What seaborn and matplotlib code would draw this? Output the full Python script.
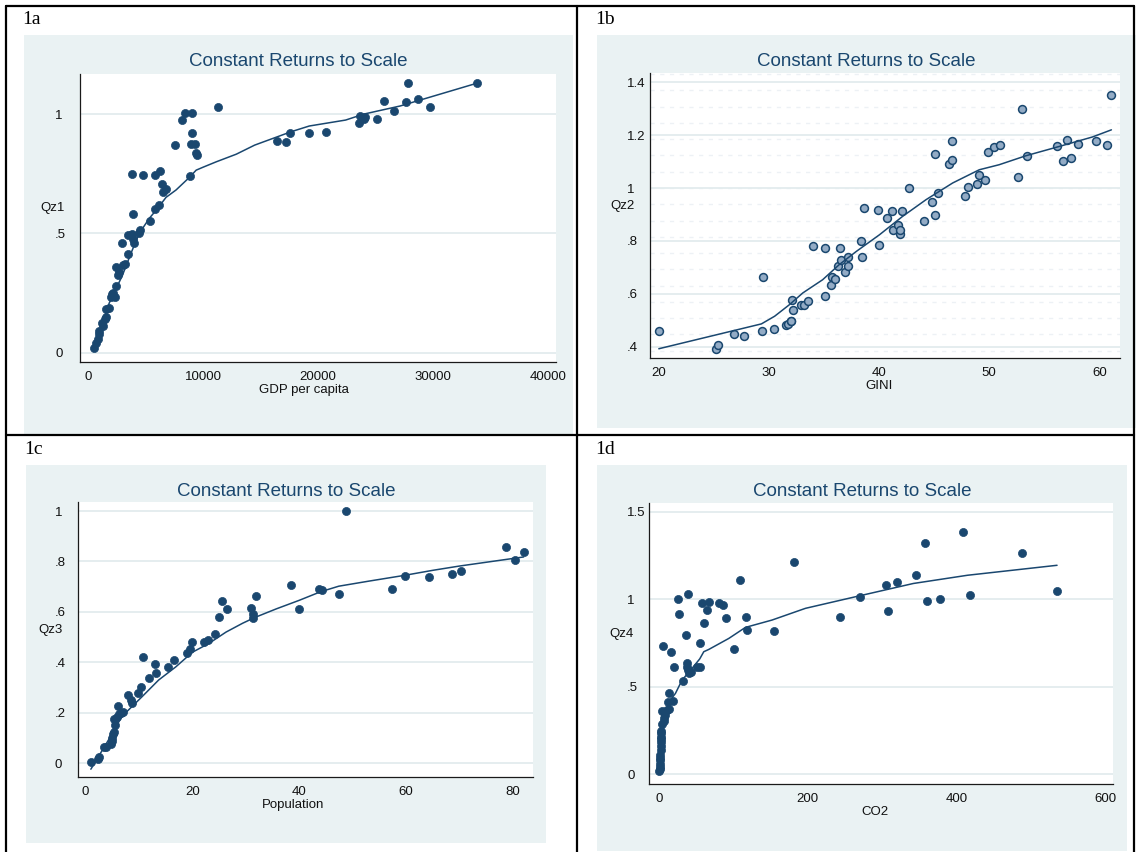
import numpy as np
import pandas as pd
import matplotlib
matplotlib.use("Agg")
from matplotlib import pyplot as plt
from matplotlib.patches import Rectangle
from matplotlib.lines import Line2D
import seaborn as sns

W, H = 1136, 852
NAVY = "#1a476f"
PANEL_BG = "#eaf2f3"
GRID = "#e3ecee"

# ---- 1a: GDP per capita vs Qz1
gdp = [496, 641, 816, 933, 962, 1224, 1312, 1458, 1574, 1516, 1837, 1953, 2041, 2187,
       2332, 2449, 2566, 2682, 2449, 2974, 3207, 3440, 2915, 3411, 3790, 3848, 3965,
       4431, 4490, 5335, 3907, 5831, 6152, 6531, 6793, 6443, 3819, 4752, 5831, 6239,
       8892, 7580, 8980, 9271, 9388, 9475, 9009, 8163, 8397, 9038, 11254, 16387, 17242,
       17559, 19207, 20729, 23613, 23645, 23994, 24089, 25103, 25705, 26656, 27670,
       27797, 28748, 29762, 33883]
qz1 = [0.021, 0.042, 0.056, 0.077, 0.089, 0.126, 0.112, 0.14, 0.151, 0.184, 0.187, 0.232,
       0.246, 0.249, 0.235, 0.279, 0.324, 0.339, 0.360, 0.366, 0.372, 0.413, 0.459, 0.492,
       0.497, 0.478, 0.461, 0.5, 0.514, 0.554, 0.581, 0.603, 0.617, 0.673, 0.684, 0.707,
       0.749, 0.743, 0.746, 0.763, 0.742, 0.869, 0.873, 0.873, 0.835, 0.827, 0.922, 0.975,
       1.003, 1.003, 1.031, 0.887, 0.881, 0.922, 0.919, 0.923, 0.964, 0.992, 0.978, 0.986,
       0.980, 1.053, 1.013, 1.052, 1.131, 1.064, 1.029, 1.131]
fit1_x = [496, 1808, 2974, 3703, 4431, 5306, 6035, 6764, 7638, 8805, 9388, 9971, 11137,
          12886, 14485, 17654, 19239, 22409, 23994, 27163, 33883]
fit1_y = [0.011, 0.207, 0.325, 0.416, 0.5, 0.563, 0.605, 0.651, 0.682, 0.735, 0.765, 0.777,
          0.8, 0.832, 0.87, 0.926, 0.95, 0.975, 1.0, 1.034, 1.13]

# ---- 1b: GINI vs Qz2
gini = [20.07, 25.23, 25.40, 26.90, 27.78, 29.42, 29.48, 30.50, 31.61, 31.74, 32.00, 32.07,
        32.10, 32.20, 32.98, 33.25, 33.57, 34.03, 35.08, 35.14, 35.67, 35.73, 36.06, 36.32,
        36.45, 36.58, 36.91, 37.17, 37.20, 38.38, 38.51, 38.68, 39.95, 40.05, 40.77, 41.16,
        41.26, 41.69, 41.89, 41.92, 42.14, 42.73, 44.10, 44.82, 45.09, 45.12, 45.35, 46.33,
        46.59, 46.66, 47.77, 48.09, 48.94, 49.07, 49.60, 49.89, 50.48, 50.94, 52.61, 52.97,
        53.46, 56.17, 56.66, 57.06, 57.45, 58.04, 59.64, 60.65, 61.05]
qz2 = [0.460, 0.391, 0.407, 0.447, 0.442, 0.461, 0.662, 0.465, 0.482, 0.487, 0.497, 0.497,
       0.578, 0.538, 0.557, 0.557, 0.574, 0.780, 0.591, 0.772, 0.633, 0.664, 0.654, 0.704,
       0.772, 0.727, 0.681, 0.706, 0.739, 0.798, 0.740, 0.923, 0.918, 0.786, 0.888, 0.912,
       0.840, 0.859, 0.826, 0.843, 0.912, 1.0, 0.874, 0.948, 0.897, 1.130, 0.981, 1.089,
       1.176, 1.107, 0.969, 1.004, 1.014, 1.050, 1.029, 1.136, 1.154, 1.161, 1.042, 1.299,
       1.120, 1.157, 1.101, 1.180, 1.112, 1.168, 1.179, 1.163, 1.353]
fit2_x = [20.05, 29.35, 30.55, 31.9, 33.1, 34.9, 36.4, 37.95, 40.05, 42.16, 44.28, 46.69,
          49.1, 50.9, 53.33, 56.34, 59.36, 61.08]
fit2_y = [0.392, 0.486, 0.515, 0.559, 0.603, 0.653, 0.71, 0.76, 0.823, 0.893, 0.956, 1.019,
          1.069, 1.088, 1.122, 1.157, 1.193, 1.22]

# ---- 1c: Population vs Qz3
population = [1.0, 2.4, 2.6, 3.4, 3.8, 4.8, 4.9, 5.0, 5.2, 5.3, 5.5, 5.3, 6.0, 5.8, 6.3,
              6.7, 7.1, 7.9, 8.6, 8.7, 9.8, 10.4, 10.8, 11.8, 13.1, 13.0, 15.5, 16.6, 18.9,
              19.5, 20.0, 22.2, 23.0, 24.2, 25.0, 25.5, 26.5, 30.9, 31.3, 31.4, 31.9, 38.5,
              40.0, 43.6, 44.2, 47.4, 48.7, 57.4, 59.7, 64.3, 68.6, 70.3, 78.6, 80.3, 82.0]
qz3 = [0.005, 0.016, 0.024, 0.066, 0.063, 0.076, 0.086, 0.099, 0.116, 0.125, 0.150, 0.174,
       0.227, 0.185, 0.193, 0.200, 0.204, 0.270, 0.251, 0.240, 0.280, 0.301, 0.422, 0.336,
       0.356, 0.393, 0.382, 0.411, 0.435, 0.451, 0.481, 0.481, 0.488, 0.512, 0.578, 0.644,
       0.612, 0.617, 0.591, 0.574, 0.662, 0.708, 0.611, 0.689, 0.686, 0.670, 1.0, 0.691,
       0.741, 0.739, 0.749, 0.764, 0.856, 0.805, 0.839]
fit3_x = [1.0, 4.3, 6.8, 10.6, 13.7, 16.9, 20.0, 23.1, 26.3, 29.4, 31.7, 35.7, 40.0, 44.0,
          47.4, 53.0, 59.7, 65.0, 70.0, 76.0, 82.0]
fit3_y = [-0.024, 0.092, 0.185, 0.264, 0.33, 0.382, 0.44, 0.475, 0.52, 0.555, 0.578, 0.612,
          0.646, 0.68, 0.702, 0.722, 0.745, 0.765, 0.782, 0.8, 0.818]

# ---- 1d: CO2 vs Qz4
co2 = [181.2, 109.2, 39.4, 25.5, 26.8, 58.2, 67.1, 80.5, 85.9, 65.3, 90.8, 116.8, 119.0,
       154.8, 60.4, 36.2, 55.9, 6.3, 16.1, 100.7, 20.6, 37.6, 38.5, 39.4, 40.3, 43.0, 51.9,
       55.0, 32.7, 14.3, 12.5, 19.7, 13.4, 11.2, 4.5, 8.9, 7.6, 6.7, 4.5, 3.6, 3.1, 3.1,
       2.7, 2.2, 2.2, 1.8, 1.3, 0.9, 2.5, 2.0, 1.5, 3.4, 2.9, 243.3, 270.4, 304.3, 308.2,
       320.3, 344.6, 356.7, 359.6, 377.0, 408.5, 418.2, 487.0, 534.0]
qz4 = [1.211, 1.109, 1.030, 1.0, 0.918, 0.981, 0.987, 0.981, 0.970, 0.937, 0.893, 0.897,
       0.823, 0.821, 0.865, 0.798, 0.749, 0.735, 0.697, 0.718, 0.615, 0.638, 0.615, 0.596,
       0.577, 0.585, 0.611, 0.615, 0.535, 0.463, 0.415, 0.417, 0.373, 0.368, 0.362, 0.339,
       0.320, 0.305, 0.286, 0.234, 0.215, 0.187, 0.139, 0.110, 0.082, 0.059, 0.029, 0.017,
       0.16, 0.095, 0.045, 0.25, 0.2, 0.897, 1.015, 1.081, 0.933, 1.100, 1.142, 1.325, 0.992,
       1.001, 1.384, 1.028, 1.268, 1.049]
fit4_x = [1.0, 3.0, 5.0, 8.0, 12.0, 15.7, 22.4, 31.3, 44.7, 55.0, 60.4, 67.1, 94.0, 116.3,
          152.0, 196.9, 268.9, 341.6, 414.3, 534.5]
fit4_y = [0.03, 0.15, 0.25, 0.32, 0.38, 0.425, 0.463, 0.539, 0.606, 0.66, 0.701, 0.714,
          0.777, 0.84, 0.882, 0.949, 1.02, 1.091, 1.138, 1.195]


def px_rect(l, t, r, b):
    return [l / W, 1 - b / H, (r - l) / W, (b - t) / H]


def stata_fmt(v, pos=None):
    s = f"{v:g}"
    if s.startswith("0."):
        s = s[1:]
    return s


def draw_panel(fig, tag, bg, box, x, y, fx, fy, xname, yname, xlim, ylim, xticks, yticks,
               ylab_off, xlab_frac, hollow=False, dashed=False):
    # grey plot-region background sits behind the axes
    fig.patches.append(Rectangle((bg[0] / W, 1 - bg[3] / H), (bg[2] - bg[0]) / W,
                                 (bg[3] - bg[1]) / H, transform=fig.transFigure,
                                 facecolor=PANEL_BG, edgecolor="none", zorder=-5))
    fig.text((bg[0] + bg[2]) / 2 / W, 1 - (bg[1] + 26) / H, "Constant Returns to Scale",
             ha="center", va="center", fontsize=13.5, color=NAVY)
    fig.text((bg[0] - 2) / W, 1 - (bg[1] - 16) / H, tag, ha="left", va="center",
             fontsize=14, family="Liberation Serif", color="black")

    ax = fig.add_axes(px_rect(*box))
    ax.set_zorder(2)
    ax.set_facecolor("white")
    ax.set_xlim(*xlim)
    ax.set_ylim(*ylim)
    ax.set_xticks(xticks)
    ax.set_yticks(yticks)
    ax.xaxis.set_major_formatter(plt.FuncFormatter(stata_fmt))
    ax.yaxis.set_major_formatter(plt.FuncFormatter(stata_fmt))
    for v in yticks:
        ax.axhline(v, color=GRID, lw=1.3, zorder=0.5)
    if dashed:
        for v in np.arange(-10, 8) * 0.0615 + 1.0:
            if ylim[0] < v < ylim[1]:
                ax.axhline(v, color="#edf1f5", lw=1.0, ls=(0, (3, 4)), zorder=0.4)

    df = pd.DataFrame({xname: x, yname: y})
    fit = pd.DataFrame({xname: fx, yname: fy})
    if hollow:
        sns.scatterplot(data=df, x=xname, y=yname, ax=ax, s=32, color="#93abc5",
                        edgecolor=NAVY, linewidth=1.1, zorder=3)
    else:
        sns.scatterplot(data=df, x=xname, y=yname, ax=ax, s=34, color=NAVY,
                        edgecolor=NAVY, linewidth=0.5, zorder=3)
    sns.lineplot(data=fit, x=xname, y=yname, ax=ax, sort=False, estimator=None,
                 color=NAVY, lw=1.1, zorder=4)

    for side in ("top", "right"):
        ax.spines[side].set_visible(False)
    for side in ("left", "bottom"):
        ax.spines[side].set_color("#1a1a1a")
        ax.spines[side].set_linewidth(0.9)
    ax.tick_params(axis="x", direction="out", length=3.6, width=0.8, color="#1a1a1a",
                   labelsize=9.5, pad=3.0, labelcolor="#111111")
    ax.tick_params(axis="y", direction="out", length=3.6, width=0.8, color="#1a1a1a",
                   labelsize=9.5, pad=(ylab_off - 5) * 0.72, labelcolor="#111111")
    for lab in ax.get_yticklabels():
        lab.set_horizontalalignment("left")

    wpx = box[2] - box[0]
    hpx = box[3] - box[1]
    ax.set_xlabel(xname, fontsize=9.5, color="#111111", va="center")
    ax.xaxis.set_label_coords(xlab_frac, -28 / hpx)
    ax.set_ylabel(yname, fontsize=9.5, color="#111111", rotation=0, ha="right", va="center")
    ax.yaxis.set_label_coords(-15 / wpx, 0.535)
    return ax


sns.set_style("white")
plt.rcParams["font.family"] = ["Liberation Sans", "DejaVu Sans"]

fig = plt.figure(figsize=(W / 100, H / 100), dpi=100)
fig.patch.set_facecolor("white")

draw_panel(fig, "1a", (24, 35, 573, 434), (80, 74, 556, 362), gdp, qz1, fit1_x, fit1_y,
           "GDP per capita", "Qz1", (-729, 40729), (-0.039, 1.168),
           [0, 10000, 20000, 30000, 40000], [0, 0.5, 1], 25, 0.47)
draw_panel(fig, "1b", (597, 35, 1136, 428), (650, 73, 1120, 358), gini, qz2, fit2_x, fit2_y,
           "GINI", "Qz2", (19.25, 61.86), (0.357, 1.435),
           [20, 30, 40, 50, 60], [0.4, 0.6, 0.8, 1.0, 1.2, 1.4], 23, 0.487,
           hollow=True, dashed=True)
draw_panel(fig, "1c", (26, 465, 546, 843), (77.5, 502, 533, 777), population, qz3,
           fit3_x, fit3_y, "Population", "Qz3", (-1.5, 83.74), (-0.055, 1.036),
           [0, 20, 40, 60, 80], [0, 0.2, 0.4, 0.6, 0.8, 1.0], 23, 0.473)
draw_panel(fig, "1d", (597, 465, 1127, 851), (649, 503, 1113, 784), co2, qz4, fit4_x, fit4_y,
           "CO2", "Qz4", (-13.1, 609.6), (-0.055, 1.551),
           [0, 200, 400, 600], [0, 0.5, 1.0, 1.5], 22, 0.487)

# table frame round the four panels
frame = [((6, 1134), (6, 6)), ((6, 6), (6, 852)), ((577, 577), (6, 852)),
         ((6, 1134), (435, 435)), ((1134, 1134), (6, 852))]
for xs, ys in frame:
    fig.lines.append(Line2D([v / W for v in xs], [1 - v / H for v in ys],
                            transform=fig.transFigure, color="black", lw=1.6))

fig.savefig("out.png", dpi=100, facecolor="white")
